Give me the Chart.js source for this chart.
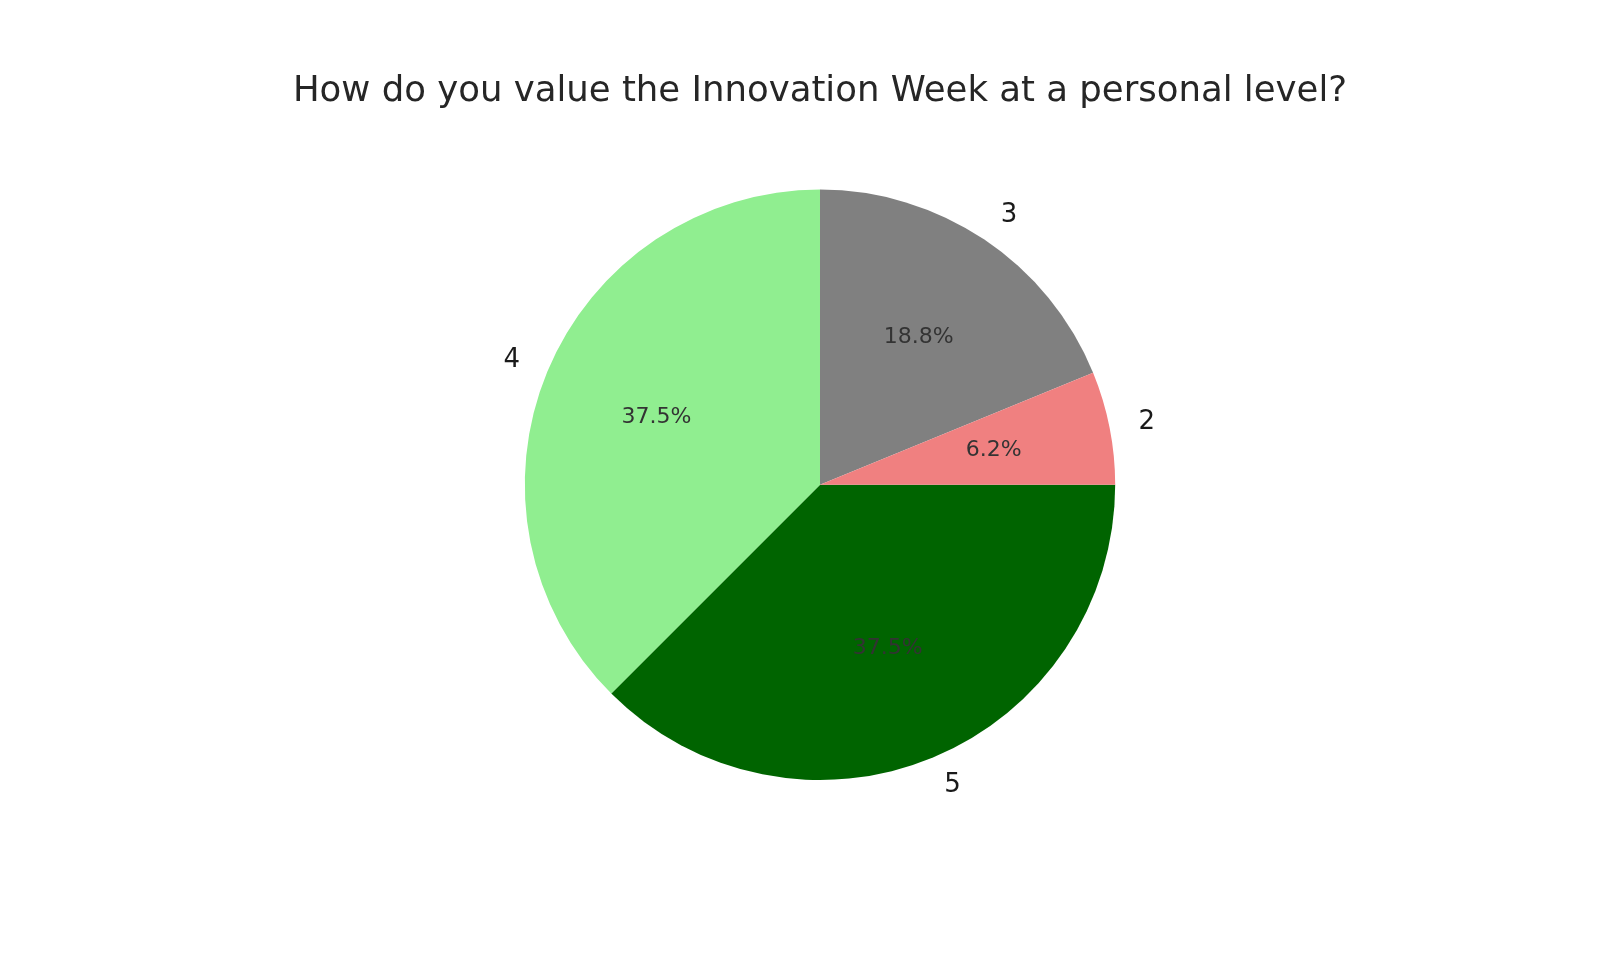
<!DOCTYPE html>
<html>
<head>
<meta charset="utf-8">
<script src="https://cdn.jsdelivr.net/npm/chart.js@4/dist/chart.umd.min.js"></script>
<style>
  html, body { margin: 0; padding: 0; background: #ffffff; }
  #wrap { width: 1600px; height: 960px; }
</style>
</head>
<body>
<div id="wrap"><canvas id="c" width="1600" height="960"></canvas></div>
<script>
// Data (matplotlib order, counter-clockwise from 3 o'clock)
const categories = ['2', '3', '4', '5'];
const percentages = [6.2, 18.8, 37.5, 37.5];
const sliceColors = ['#F08080', '#808080', '#90EE90', '#006400'];
const chartTitle = 'How do you value the Innovation Week at a personal level?';

// Chart.js draws clockwise, so reverse to reproduce counter-clockwise layout
const labelsCW = categories.slice().reverse();
const valuesCW = percentages.slice().reverse();
const colorsCW = sliceColors.slice().reverse();

const FONT = "'DejaVu Sans', sans-serif";

const pieLabels = {
  id: 'pieLabels',
  afterDatasetsDraw(chart) {
    const ctx = chart.ctx;
    const meta = chart.getDatasetMeta(0);
    ctx.save();
    meta.data.forEach((arc, i) => {
      const p = arc.getProps(['x', 'y', 'startAngle', 'endAngle', 'outerRadius'], true);
      const mid = (p.startAngle + p.endAngle) / 2;
      const c = Math.cos(mid), s = Math.sin(mid);
      const lx = p.x + c * p.outerRadius * 1.1;
      const ly = p.y + s * p.outerRadius * 1.1;
      ctx.font = '26px ' + FONT;
      ctx.fillStyle = '#1a1a1a';
      ctx.textBaseline = 'middle';
      ctx.textAlign = c >= 0 ? 'left' : 'right';
      ctx.fillText(chart.data.labels[i], lx, ly);
      const px = p.x + c * p.outerRadius * 0.6;
      const py = p.y + s * p.outerRadius * 0.6;
      ctx.font = '22px ' + FONT;
      ctx.fillStyle = '#333333';
      ctx.textAlign = 'center';
      ctx.fillText(chart.data.datasets[0].data[i].toFixed(1) + '%', px, py);
    });
    ctx.restore();
  }
};

new Chart(document.getElementById('c'), {
  type: 'pie',
  data: {
    labels: labelsCW,
    datasets: [{
      data: valuesCW,
      backgroundColor: colorsCW,
      borderWidth: 0
    }]
  },
  options: {
    responsive: false,
    animation: false,
    rotation: 90,
    layout: { padding: { top: 0, bottom: 180, left: 40, right: 0 } },
    plugins: {
      legend: { display: false },
      tooltip: { enabled: false },
      title: {
        display: true,
        text: chartTitle,
        color: '#262626',
        font: { family: FONT, size: 35.5, weight: 'normal', lineHeight: 1.2 },
        padding: { top: 70, bottom: 77 }
      }
    }
  },
  plugins: [pieLabels]
});
</script>
</body>
</html>
